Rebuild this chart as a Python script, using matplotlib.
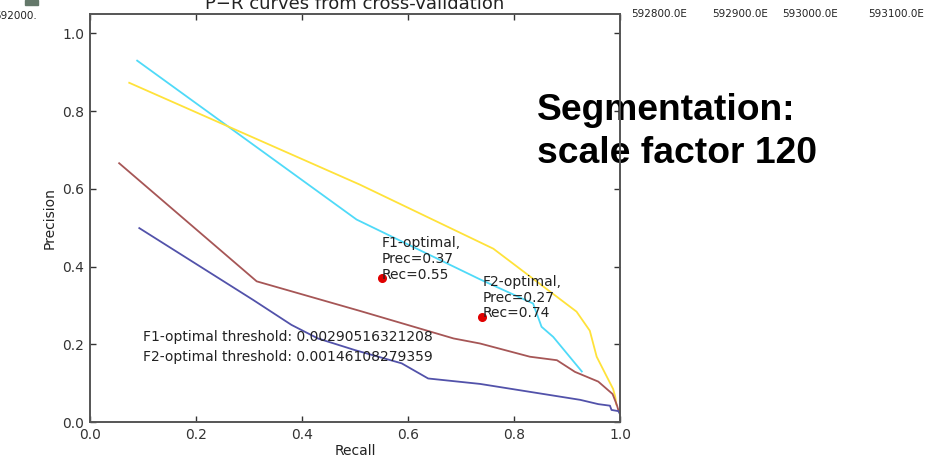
# %% Import

import matplotlib.pyplot as plt
from matplotlib.patches import Rectangle
from matplotlib.transforms import Bbox, TransformedBbox

# %% Data

cyan_recall = [0.089, 0.503, 0.736, 0.836, 0.852, 0.874, 0.928]
cyan_prec = [0.930, 0.521, 0.367, 0.305, 0.245, 0.219, 0.130]

yellow_recall = [0.074, 0.509, 0.761, 0.918, 0.943, 0.956, 0.972, 0.987, 0.991, 0.993]
yellow_prec = [0.873, 0.611, 0.446, 0.284, 0.235, 0.168, 0.125, 0.085, 0.065, 0.045]

brown_recall = [0.055, 0.3145, 0.509, 0.686, 0.736, 0.830, 0.881, 0.915, 0.959, 0.986,
                0.994, 0.997]
brown_prec = [0.666, 0.362, 0.286, 0.215, 0.202, 0.168, 0.159, 0.129, 0.104, 0.072,
              0.044, 0.030]

blue_recall = [0.093, 0.308, 0.38, 0.43, 0.50, 0.588, 0.638, 0.736, 0.925, 0.959, 0.981,
               0.984, 0.997, 1.0]
blue_prec = [0.499, 0.314, 0.250, 0.215, 0.185, 0.151, 0.112, 0.098, 0.057, 0.046, 0.042,
             0.031, 0.028, 0.020]

opt_names = ["F1-optimal", "F2-optimal"]
opt_prec = [0.37, 0.27]
opt_rec = [0.55, 0.74]

thresholds = [("F1-optimal threshold", "0.00290516321208"),
              ("F2-optimal threshold", "0.00146108279359")]

map_labels = ["592800.0E", "592900.0E", "593000.0E", "593100.0E"]

# %% Figure

W, H = 935, 459
fig = plt.figure(figsize=(W / 100, H / 100), dpi=100)
fig.patch.set_facecolor("white")

ax = fig.add_axes([90 / W, 1 - 422 / H, 530 / W, 408 / H])

ax.plot(cyan_recall, cyan_prec, color="#4fdaf8", lw=1.3)
ax.plot(yellow_recall, yellow_prec, color="#ffe23a", lw=1.3)
ax.plot(brown_recall, brown_prec, color="#a65656", lw=1.3)
ax.plot(blue_recall, blue_prec, color="#5252aa", lw=1.3)

ax.plot(opt_rec, opt_prec, "o", color="#e00000", ms=5.5, mec="#e00000")

for name, p, r in zip(opt_names, opt_prec, opt_rec):
    ax.annotate(
        f"{name},\nPrec={p:.2f}\nRec={r:.2f}",
        xy=(r, p),
        xytext=(0, -2.4),
        textcoords="offset points",
        ha="left",
        va="bottom",
        fontsize=10,
        linespacing=1.15,
        color="#222222",
    )

for (label, val), y in zip(thresholds, [0.208, 0.158]):
    ax.text(0.1, y, f"{label}: {val}", fontsize=10, va="baseline", color="#222222")

ax.set_xlim(0, 1)
ax.set_ylim(0, 1.05)
ax.set_xticks([0.0, 0.2, 0.4, 0.6, 0.8, 1.0])
ax.set_yticks([0.0, 0.2, 0.4, 0.6, 0.8, 1.0])
ax.tick_params(direction="in", top=True, right=True, length=4, width=1,
               labelsize=10, colors="#333333", pad=4)
for s in ax.spines.values():
    s.set_color("#555555")
    s.set_linewidth(1.4)

ax.set_xlabel("Recall", fontsize=10, color="#222222", labelpad=2)
ax.set_ylabel("Precision", fontsize=10, color="#222222")
ax.set_title("P\u2212R curves from cross-validation", fontsize=13, pad=3.5,
             color="#222222")

# slide overlay text (drawn under the right spine)
ax.text(537 / W, 1 - 162.7 / H, "Segmentation:\nscale factor 120",
        transform=fig.transFigure, family="Liberation Sans", fontweight="bold",
        fontsize=26.8, linespacing=1.3, ha="left", va="baseline", zorder=1,
        clip_on=False, color="black")

# bits of the map window behind the slide
left_lbl = fig.text(-6 / W, 1 - 16 / H, "592000.0E", fontsize=7.5, va="center",
                    color="#222222")
left_lbl.set_clip_box(TransformedBbox(Bbox([[0, 0], [36 / W, 1]]), fig.transFigure))
left_lbl.set_clip_on(True)

for lbl, x in zip(map_labels, [631, 712, 782, 868]):
    t = fig.text(x / W, 1 - 14 / H, lbl, fontsize=7.5, va="center", color="#222222")
    t.set_clip_box(TransformedBbox(Bbox([[633 / W, 0], [1, 1]]), fig.transFigure))
    t.set_clip_on(True)

fig.patches.append(Rectangle((25 / W, 1 - 5 / H), 13 / W, 5 / H,
                             transform=fig.transFigure, color="#64786a"))

fig.savefig("out.png", dpi=100)
